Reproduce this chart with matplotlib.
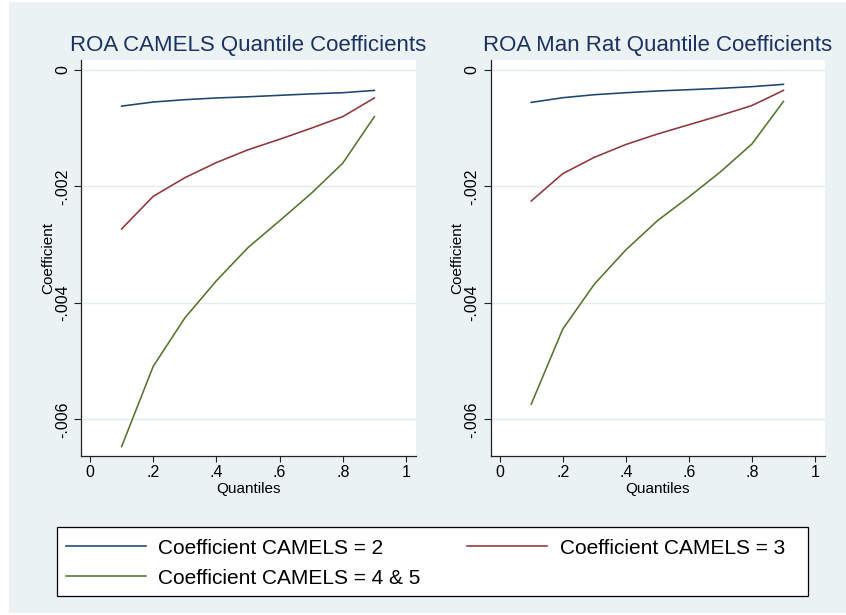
import matplotlib
matplotlib.use("Agg")
import matplotlib.pyplot as plt
from matplotlib.patches import Rectangle

plt.rcParams['font.family'] = ['Liberation Sans', 'DejaVu Sans']

# ---- data ----
quantiles = [0.1, 0.2, 0.3, 0.4, 0.5, 0.6, 0.7, 0.8, 0.9]

camels2_left = [-0.00062, -0.00055, -0.00051, -0.00048, -0.00046, -0.000435, -0.00041, -0.00039, -0.00035]
camels3_left = [-0.00273, -0.00217, -0.00185, -0.00159, -0.00137, -0.00119, -0.00100, -0.00080, -0.00048]
camels45_left = [-0.00647, -0.00509, -0.00426, -0.00362, -0.00305, -0.00259, -0.00212, -0.00160, -0.00080]

camels2_right = [-0.000556, -0.000476, -0.000424, -0.00039, -0.00036, -0.000338, -0.000315, -0.000286, -0.000246]
camels3_right = [-0.00225, -0.00178, -0.00150, -0.00128, -0.00110, -0.00094, -0.00078, -0.00061, -0.00035]
camels45_right = [-0.00574, -0.00445, -0.00368, -0.00309, -0.00259, -0.00218, -0.00175, -0.00127, -0.00054]

titles = ["ROA CAMELS Quantile Coefficients", "ROA Man Rat Quantile Coefficients"]
series_labels = ["Coefficient CAMELS = 2", "Coefficient CAMELS = 3", "Coefficient CAMELS = 4 & 5"]
xticks = [0, 0.2, 0.4, 0.6, 0.8, 1.0]
xtick_labels = ["0", ".2", ".4", ".6", ".8", "1"]
yticks = [0, -0.002, -0.004, -0.006]
ytick_labels = ["0", "-.002", "-.004", "-.006"]

colors = ["#1a476f", "#90353b", "#55752f"]
bg = "#EAF2F3"
title_color = "#1c3160"

W, H = 846, 615
fig = plt.figure(figsize=(W / 100, H / 100), dpi=100)
fig.patch.set_facecolor("white")
fig.patches.append(Rectangle((9 / W, 2 / H), 1 - 9 / W, 611 / H, transform=fig.transFigure,
                             facecolor=bg, edgecolor="none", zorder=-10))

ax_specs = [
    (81, 416, camels2_left, camels3_left, camels45_left, titles[0]),
    (490.7, 825, camels2_right, camels3_right, camels45_right, titles[1]),
]

handles = None
for x0, x1, s2, s3, s45, title in ax_specs:
    ax = fig.add_axes([x0 / W, (H - 456) / H, (x1 - x0) / W, 396 / H])
    ax.set_facecolor("white")
    l1, = ax.plot(quantiles, s2, color=colors[0], lw=1.15)
    l2, = ax.plot(quantiles, s3, color=colors[1], lw=1.15)
    l3, = ax.plot(quantiles, s45, color=colors[2], lw=1.15)
    handles = [l1, l2, l3]
    ax.set_xlim(-0.0285, 1.0317)
    ax.set_ylim(-0.00663, 0.000172)
    ax.set_xticks(xticks)
    ax.set_xticklabels(xtick_labels)
    ax.set_yticks(yticks)
    ax.set_yticklabels(ytick_labels, rotation=90, va='center')
    ax.yaxis.grid(True, color="#E2ECEF", lw=1.0)
    ax.xaxis.grid(False)
    ax.set_axisbelow(True)
    for side in ["top", "right"]:
        ax.spines[side].set_visible(False)
    for side in ["left", "bottom"]:
        ax.spines[side].set_color("#222222")
        ax.spines[side].set_linewidth(0.9)
    ax.tick_params(axis='y', direction='out', length=5, width=0.8, color="#222222",
                   labelsize=11.5, pad=3)
    ax.tick_params(axis='x', direction='out', length=4, width=0.8, color="#222222",
                   labelsize=11.5, pad=2.5)
    ax.set_title(title, color=title_color, fontsize=16, pad=6.5)
    ax.set_xlabel("Quantiles", fontsize=11)
    ax.xaxis.set_label_coords(0.5, -0.066)
    ax.set_ylabel("Coefficient", fontsize=11)
    ax.yaxis.set_label_coords(-0.078, 0.5)

# legend box (frame drawn separately so its size matches the reference)
fig.patches.append(Rectangle((56.7 / W, (H - 595.7) / H), 751 / W, 69 / H,
                             transform=fig.transFigure, facecolor="white",
                             edgecolor="black", linewidth=0.9, zorder=1))

# row-major order: matplotlib fills legend columns first
order = [0, 2, 1]
leg = fig.legend([handles[i] for i in order], [series_labels[i] for i in order],
                 loc='upper left', ncol=2,
                 bbox_to_anchor=(65.7 / W, (H - 538.5) / H),
                 fontsize=15, frameon=False,
                 handlelength=3.84, handletextpad=0.59, labelspacing=0.54,
                 borderpad=0, borderaxespad=0, columnspacing=2.25)
leg.set_zorder(2)

fig.savefig("out.png", dpi=100, facecolor=fig.get_facecolor())
